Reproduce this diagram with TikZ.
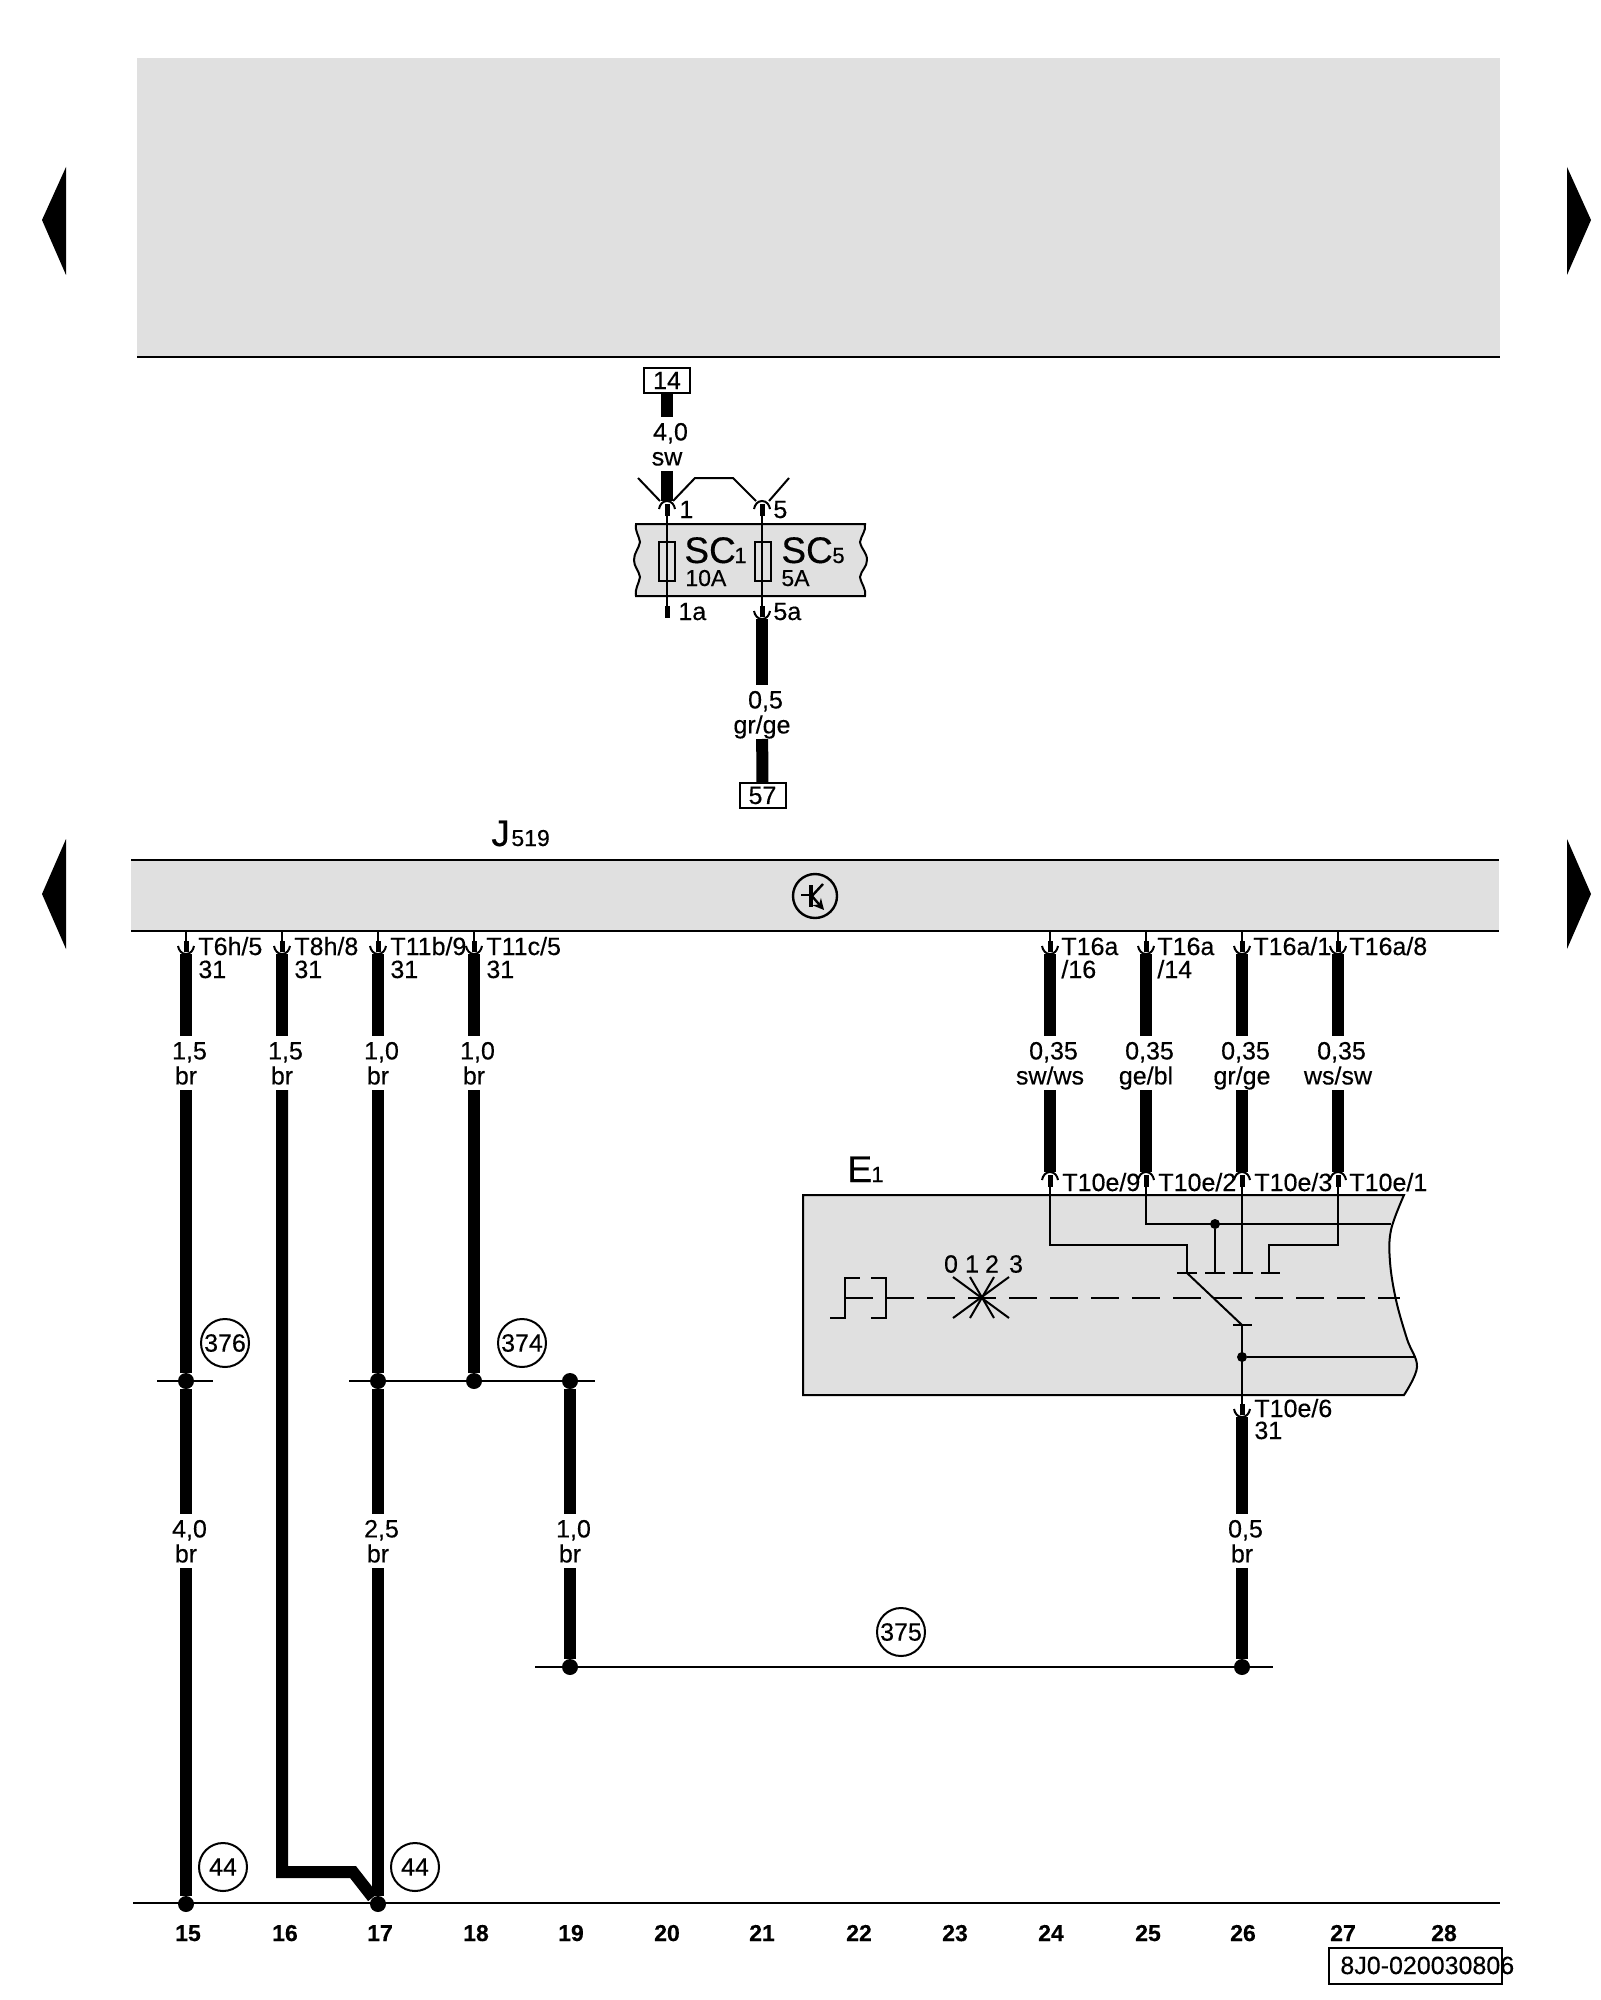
\documentclass[tikz,border=0pt]{standalone}
\usepackage{fontspec}
\setmainfont{Liberation Sans}[RawFeature={embolden=0.35}]
\usetikzlibrary{arrows.meta}

\definecolor{panelgray}{HTML}{E0E0E0}

\tikzset{
  wire/.style={line width=6pt},
  thinw/.style={line width=1pt},
  stubw/.style={line width=2.5pt},
  rule/.style={line width=1.2pt},
  txt/.style={font=\fontsize{12.5}{12.5}\selectfont, inner sep=0pt},
  pinlbl/.style={txt, anchor=base west},
  gauge/.style={txt, align=center, minimum height=26pt, minimum width=12pt},
  dot/.style={circle, fill=black, minimum size=8pt, inner sep=0pt},
  minidot/.style={circle, fill=black, minimum size=5pt, inner sep=0pt},
  ref/.style={circle, draw, thinw, minimum size=24pt, inner sep=0pt, font=\fontsize{12.5}{12.5}\selectfont},
  tagbox/.style={rectangle, draw, thinw, minimum width=23pt, minimum height=12.5pt, inner sep=0pt, font=\fontsize{12.5}{12.5}\selectfont},
  colnum/.style={font=\fontsize{11.5}{11.5}\selectfont\bfseries, inner sep=0pt, anchor=base},
  bigname/.style={font=\fontsize{18.5}{18.5}\selectfont, inner sep=0pt, anchor=base west},
  subname/.style={font=\fontsize{11}{11}\selectfont, inner sep=0pt, anchor=base west},
}

% pin below a box: thin lead, stub, cup
\newcommand{\pinlow}[2]{
  \draw [thinw] (#1,#2) -- ++(0,12);
  \draw [stubw] (#1,#2+10) -- ++(0,11);
  \draw [thinw] (#1-8,#2+15) to[out=-80,in=180] (#1,#2+23) to[out=0,in=-100] (#1+8,#2+15);
}
% pin above a box
\newcommand{\pinhigh}[2]{
  \draw [thinw] (#1,#2) -- ++(0,-10);
  \draw [stubw] (#1,#2-8) -- ++(0,-12);
  \draw [thinw] (#1-8,#2-15) to[out=80,in=180] (#1,#2-23) to[out=0,in=100] (#1+8,#2-15);
}
% size and colour of a wire, same depth whatever the letters
\newcommand{\gaugetxt}[2]{\rule{0pt}{11.5pt}\hspace*{3.5pt}#1\\#2\vphantom{bg/}}

\begin{document}
\begin{tikzpicture}[x=0.5pt,y=-0.5pt]
  \useasboundingbox (0,0) rectangle (1600,2000);

  % page arrows
  \fill (42,220) -- (66,167) -- (66,275) -- cycle;
  \fill (42,894) -- (66,839) -- (66,949) -- cycle;
  \fill (1591,220) -- (1567,167) -- (1567,275) -- cycle;
  \fill (1591,894) -- (1567,839) -- (1567,949) -- cycle;

  % top panel
  \fill [panelgray] (137,58) rectangle (1500,357);
  \draw [rule] (137,357) -- (1500,357);

  % fuse holder
  \draw [thinw, fill=panelgray] (636,524) -- (865,524) to[out=-80,in=80] (860,542) to[out=-80,in=90] (867,560) to[out=-90,in=80] (860,577) to[out=-80,in=80] (865,596)
    -- (636,596) to[out=100,in=-100] (640,577) to[out=100,in=-90] (634,560) to[out=90,in=-100] (640,542) to[out=100,in=-100] cycle;
  \draw [thinw] (659,542) rectangle (675,581);
  \draw [thinw] (755,542) rectangle (771,581);
  \draw [thinw] (667,524) -- (667,596);
  \draw [thinw] (762,524) -- (762,596);
  \node [bigname] (sc1) at (684,563) {SC};
  \node [subname] (sc1n) at (734,563) {1};
  \node [txt, anchor=base west, font=\fontsize{11.5}{11.5}\selectfont] (sc1a) at (685,586) {10A};
  \node [bigname] (sc5) at (781,563) {SC};
  \node [subname] (sc5n) at (832,563) {5};
  \node [txt, anchor=base west, font=\fontsize{11.5}{11.5}\selectfont] (sc5a) at (781,586) {5A};

  % feed at top of the fuses
  \node [tagbox] (b14) at (667,380.5) {14};
  \node [gauge] (g14) at (667,444) {\gaugetxt{4,0}{sw}};
  \coordinate (f1) at (667,501);
  \draw [wire] (b14) -- (g14);
  \draw [wire] (g14) -- (f1);
  \pinhigh{667}{524}
  \pinhigh{762}{524}
  \coordinate (va) at (638,478);
  \coordinate (vb) at (660,501);
  \coordinate (vc) at (673,501);
  \coordinate (vd) at (695,478);
  \coordinate (ve) at (733,478);
  \coordinate (vf) at (756,501);
  \coordinate (vg) at (769,501);
  \coordinate (vh) at (789,478);
  \draw [thinw] (va) -- (vb);
  \draw [thinw] (vc) -- (vd) -- (ve) -- (vf);
  \draw [thinw] (vg) -- (vh);
  \node [pinlbl] (l1) at (679,518) {1};
  \node [pinlbl] (l5) at (773,518) {5};

  % below the fuses
  \draw [thinw] (667,596) -- (667,608);
  \draw [stubw] (667,606) -- (667,618);
  \pinlow{762}{596}
  \node [pinlbl] (l1a) at (678,620) {1a};
  \node [pinlbl] (l5a) at (773,620) {5a};
  \coordinate (f5) at (762,619);
  \node [gauge] (g57) at (762,712) {\gaugetxt{0,5}{gr/ge}};
  \node [tagbox] (b57) at (762.5,795.5) {57};
  \draw [wire] (f5) -- (g57);
  \draw [wire] (g57) -- (b57);

  % J519
  \fill [panelgray] (131,860) rectangle (1499,931);
  \draw [rule] (131,860) -- (1499,860);
  \draw [rule] (131,931) -- (1499,931);
  \node [bigname] (jname) at (491,846) {J};
  \node [subname, font=\fontsize{11.5}{11.5}\selectfont] (jsub) at (511,846) {519};
  \node [circle, draw, line width=1.2pt, minimum size=22pt, inner sep=0pt] (ecu) at (815,896) {};
  \draw [thinw] (801,895) -- (811,895);
  \draw [line width=1.8pt] (811,885) -- (811,907);
  \draw [line width=1.2pt] (811,897) -- (823,884);
  \draw [line width=1.2pt, -{Stealth[length=5.5pt,width=5.5pt]}] (811,895) -- (824,910);

  % pins under J519
  \foreach \x in {186,282,378,474,1050,1146,1242,1338} {
    \pinlow{\x}{931}
    \coordinate (p\x) at (\x,954);
  }
  \node [pinlbl] (t15) at (198,955) {T6h/5};
  \node [pinlbl] (t16) at (294,955) {T8h/8};
  \node [pinlbl] (t17) at (390,955) {T11b/9};
  \node [pinlbl] (t18) at (486,955) {T11c/5};
  \foreach \x in {198,294,390,486}
    \node [pinlbl] (n\x) at (\x,978) {31};
  \node [pinlbl] (t24) at (1061,955) {T16a};
  \node [pinlbl] (t24b) at (1061,978) {/16};
  \node [pinlbl] (t25) at (1157,955) {T16a};
  \node [pinlbl] (t25b) at (1157,978) {/14};
  \node [pinlbl] (t26) at (1253,955) {T16a/1};
  \node [pinlbl] (t27) at (1349,955) {T16a/8};

  % gauges
  \node [gauge] (g15a) at (186,1063) {\gaugetxt{1,5}{br}};
  \node [gauge] (g16a) at (282,1063) {\gaugetxt{1,5}{br}};
  \node [gauge] (g17a) at (378,1063) {\gaugetxt{1,0}{br}};
  \node [gauge] (g18a) at (474,1063) {\gaugetxt{1,0}{br}};
  \node [gauge] (g24a) at (1050,1063) {\gaugetxt{0,35}{sw/ws}};
  \node [gauge] (g25a) at (1146,1063) {\gaugetxt{0,35}{ge/bl}};
  \node [gauge] (g26a) at (1242,1063) {\gaugetxt{0,35}{gr/ge}};
  \node [gauge] (g27a) at (1338,1063) {\gaugetxt{0,35}{ws/sw}};
  \node [gauge] (g15b) at (186,1541) {\gaugetxt{4,0}{br}};
  \node [gauge] (g17b) at (378,1541) {\gaugetxt{2,5}{br}};
  \node [gauge] (g19b) at (570,1541) {\gaugetxt{1,0}{br}};
  \node [gauge] (g26b) at (1242,1541) {\gaugetxt{0,5}{br}};

  % junctions
  \node [dot] (d15) at (186,1381) {};
  \node [dot] (d17) at (378,1381) {};
  \node [dot] (d18) at (474,1381) {};
  \node [dot] (d19) at (570,1381) {};
  \node [dot] (g15) at (186,1904) {};
  \node [dot] (g17) at (378,1904) {};
  \node [dot] (m19) at (570,1667) {};
  \node [dot] (m26) at (1242,1667) {};
  \coordinate (s1) at (157,1381);
  \coordinate (s2) at (213,1381);
  \coordinate (s3) at (349,1381);
  \coordinate (s4) at (595,1381);
  \coordinate (m1) at (535,1667);
  \coordinate (m2) at (1273,1667);
  \draw [thinw] (s1) -- (s2);
  \draw [thinw] (s3) -- (s4);
  \draw [thinw] (m1) -- (m2);

  % wires
  \draw [wire] (p186) -- (g15a);
  \draw [wire] (g15a) -- (d15);
  \draw [wire] (d15) -- (g15b);
  \draw [wire] (g15b) -- (g15);
  \draw [wire] (p282) -- (g16a);
  \coordinate (c16) at (282,1872);
  \coordinate (c16b) at (353,1872);
  \draw [wire] (g16a) -- (c16) -- (c16b) -- (g17);
  \draw [wire] (p378) -- (g17a);
  \draw [wire] (g17a) -- (d17);
  \draw [wire] (d17) -- (g17b);
  \draw [wire] (g17b) -- (g17);
  \draw [wire] (p474) -- (g18a);
  \draw [wire] (g18a) -- (d18);
  \draw [wire] (d19) -- (g19b);
  \draw [wire] (g19b) -- (m19);
  \foreach \x/\g in {1050/g24a,1146/g25a,1242/g26a,1338/g27a} {
    \draw [wire] (p\x) -- (\g);
    \coordinate (q\x) at (\x,1172);
    \draw [wire] (\g) -- (q\x);
  }

  % circled references
  \node [ref] (r376) at (225,1343) {376};
  \node [ref] (r374) at (522,1343) {374};
  \node [ref] (r375) at (901,1632) {375};
  \node [ref] (r44a) at (223,1867) {44};
  \node [ref] (r44b) at (415,1867) {44};

  % E1
  \draw [thinw, fill=panelgray] (803,1195) -- plot [smooth, tension=0.6] coordinates {(1404,1195) (1391,1230) (1390,1262) (1396,1300) (1407,1339) (1417,1367) (1404,1395)} -- (803,1395) -- cycle;
  \node [bigname] (ename) at (847,1182) {E};
  \node [subname] (esub) at (871,1182) {1};
  \foreach \x in {1050,1146,1242,1338} {
    \pinhigh{\x}{1195}
  }
  \node [pinlbl] (e9) at (1062,1191) {T10e/9};
  \node [pinlbl] (e2) at (1158,1191) {T10e/2};
  \node [pinlbl] (e3) at (1254,1191) {T10e/3};
  \node [pinlbl] (e1) at (1349,1191) {T10e/1};

  % switch contacts
  \coordinate (k1) at (1187,1273);
  \coordinate (k2) at (1215,1273);
  \coordinate (k3) at (1242,1273);
  \coordinate (k4) at (1269,1273);
  \coordinate (k5) at (1242,1325);
  \node [minidot] (j2) at (1215,1224) {};
  \node [minidot] (j6) at (1242,1357) {};
  \coordinate (t1) at (1050,1195);
  \coordinate (t2) at (1146,1195);
  \coordinate (t3) at (1242,1195);
  \coordinate (t4) at (1338,1195);
  \coordinate (x2) at (1391,1224);
  \coordinate (x6) at (1414,1357);
  \draw [thinw] (t1) |- (1187,1245) -- (k1);
  \draw [thinw] (t2) |- (x2);
  \draw [thinw] (j2) -- (k2);
  \draw [thinw] (t3) -- (k3);
  \draw [thinw] (t4) |- (1269,1245) -- (k4);
  \draw [thinw] (k1) -- (k5);
  \draw [thinw] (1177,1273) -- (1197,1273);
  \draw [thinw] (1205,1273) -- (1225,1273);
  \draw [thinw] (1233,1273) -- (1253,1273);
  \draw [thinw] (1261,1273) -- (1280,1273);
  \draw [thinw] (1233,1325) -- (1252,1325);
  \draw [thinw] (k5) -- (1242,1395);
  \draw [thinw] (j6) -- (x6);

  % actuator
  \draw [thinw] (830,1318) -- (845,1318) -- (845,1278) -- (860,1278);
  \draw [thinw] (871,1278) -- (886,1278) -- (886,1318) -- (871,1318);
  \draw [thinw] (845,1298) -- (873,1298);
  \draw [thinw, dash pattern=on 14pt off 6.5pt] (886,1298) -- (1400,1298);
  \draw [thinw] (953,1277) -- (1009,1318);
  \draw [thinw] (1009,1277) -- (953,1318);
  \draw [thinw] (970,1277) -- (994,1318);
  \draw [thinw] (994,1277) -- (970,1318);
  \node [txt] (pos0) at (951,1264) {0};
  \node [txt] (pos1) at (972,1264) {1};
  \node [txt] (pos2) at (992,1264) {2};
  \node [txt] (pos3) at (1016,1264) {3};

  % ground of E1
  \pinlow{1242}{1394}
  \coordinate (q26) at (1242,1417);
  \draw [wire] (q26) -- (g26b);
  \draw [wire] (g26b) -- (m26);
  \node [pinlbl] (e6) at (1254,1417) {T10e/6};
  \node [pinlbl] (e6n) at (1254,1439) {31};

  % earth rail
  \coordinate (r1) at (133,1903);
  \coordinate (r2) at (1500,1903);
  \draw [thinw] (r1) -- (r2);
  \foreach \x/\n in {188/15,285/16,380/17,476/18,571/19,667/20,762/21,859/22,955/23,1051/24,1148/25,1243/26,1343/27,1444/28}
    \node [colnum] (col\n) at (\x,1941) {\n};

  % drawing number
  \node [draw, line width=1.2pt, minimum width=86.5pt, minimum height=18pt, inner sep=0pt] (docbox) at (1415.5,1966) {};
  \node [txt, anchor=base west] (doc) at (1340,1974) {8J0-020030806};
\end{tikzpicture}
\end{document}
